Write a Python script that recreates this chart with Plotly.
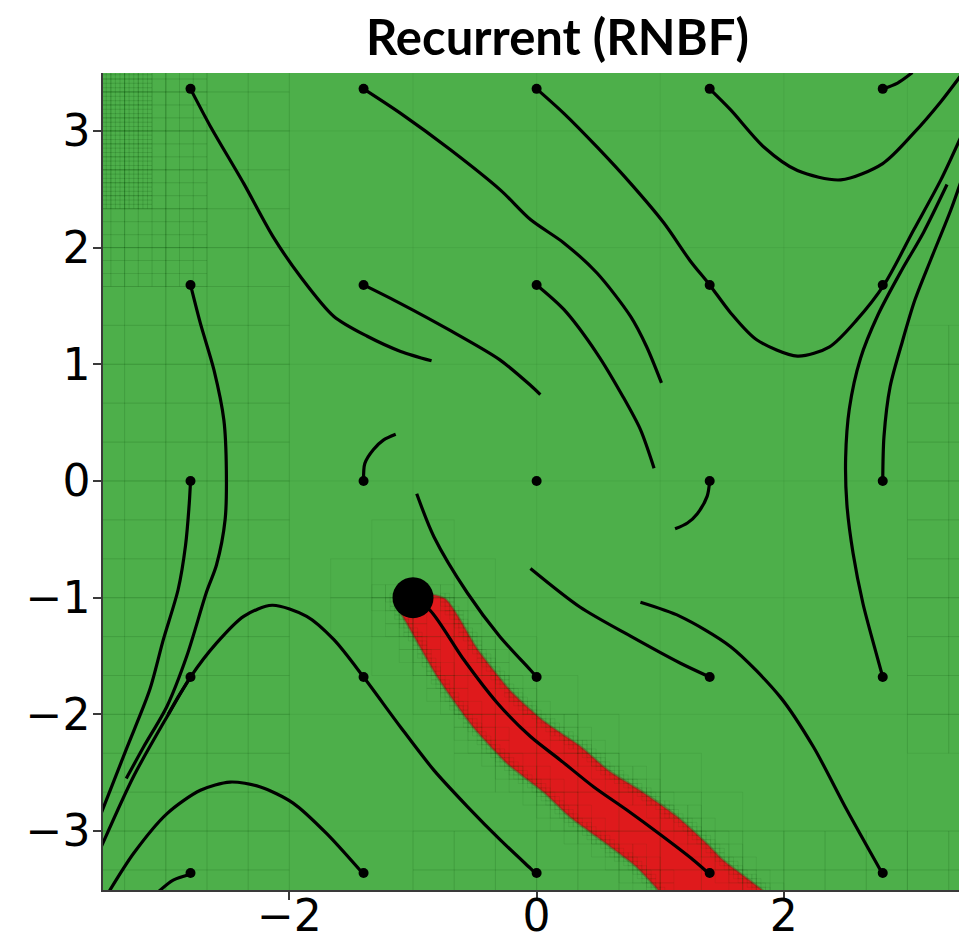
import numpy as np
import plotly.graph_objects as go

# ---------------- data ----------------
# initial states (5 x 5 grid)
start_x = [-2.8, -1.4, 0.0, 1.4, 2.8]
start_y = [3.36, 1.68, 0.0, -1.68, -3.36]

# obstacle centre
obstacle_x = [-1.0]
obstacle_y = [-1.0]

# closed-loop trajectories
traj_a_x = [-2.80, -2.64, -2.37, -2.13, -1.91, -1.64, -1.37, -1.10, -0.85]
traj_a_y = [3.36, 3.04, 2.55, 2.09, 1.75, 1.41, 1.24, 1.11, 1.03]

traj_b_x = [-1.40, -1.10, -0.70, -0.29, -0.05, 0.22, 0.49, 0.76, 0.89, 1.01]
traj_b_y = [3.36, 3.15, 2.84, 2.49, 2.24, 2.04, 1.78, 1.41, 1.15, 0.84]

traj_c_x = [0.00, 0.22, 0.49, 0.76, 1.03, 1.24, 1.40, 1.57, 1.78, 2.11, 2.37, 2.59, 2.81, 3.05, 3.27, 3.45]
traj_c_y = [3.36, 3.15, 2.86, 2.55, 2.21, 1.89, 1.68, 1.44, 1.21, 1.07, 1.15, 1.38, 1.68, 2.15, 2.58, 2.99]

traj_d_x = [1.40, 1.57, 1.84, 2.11, 2.46, 2.80, 3.05, 3.27, 3.45]
traj_d_y = [3.36, 3.18, 2.86, 2.66, 2.58, 2.72, 2.98, 3.25, 3.50]

traj_e_x = [2.80, 2.92, 3.04]
traj_e_y = [3.36, 3.41, 3.50]

traj_f_x = [-2.80, -2.72, -2.61, -2.53, -2.51, -2.52, -2.59, -2.67, -2.83, -2.99, -3.18, -3.32]
traj_f_y = [1.68, 1.35, 0.95, 0.52, 0.09, -0.33, -0.72, -0.95, -1.50, -1.93, -2.28, -2.55]

traj_g_x = [-1.40, -1.10, -0.70, -0.30, -0.05, 0.03]
traj_g_y = [1.68, 1.52, 1.29, 1.04, 0.82, 0.74]

traj_h_x = [0.00, 0.22, 0.49, 0.70, 0.84, 0.95]
traj_h_y = [1.68, 1.47, 1.09, 0.72, 0.44, 0.11]

traj_i_x = [2.80, 2.81, 2.86, 2.96, 3.06, 3.19, 3.35, 3.45]
traj_i_y = [0.00, 0.38, 0.81, 1.20, 1.55, 1.90, 2.32, 2.62]

traj_j_x = [-2.80, -2.81, -2.84, -2.90, -3.02, -3.13, -3.32, -3.52]
traj_j_y = [0.00, -0.19, -0.55, -0.93, -1.36, -1.79, -2.30, -2.84]

traj_k_x = [-1.40, -1.39, -1.32, -1.24, -1.14]
traj_k_y = [0.00, 0.15, 0.27, 0.35, 0.40]

traj_l_x = [1.40, 1.38, 1.30, 1.22, 1.12]
traj_l_y = [0.00, -0.13, -0.28, -0.36, -0.41]

traj_m_x = [-0.97, -0.83, -0.56, -0.30, -0.05, 0.00]
traj_m_y = [-0.11, -0.48, -0.96, -1.33, -1.62, -1.68]

traj_n_x = [-0.05, 0.35, 0.76, 1.16, 1.40]
traj_n_y = [-0.75, -1.08, -1.33, -1.56, -1.68]

traj_o_x = [0.84, 1.16, 1.57, 1.97, 2.24, 2.51, 2.80]
traj_o_y = [-1.04, -1.16, -1.42, -1.85, -2.28, -2.82, -3.37]

traj_p_x = [2.80, 2.74, 2.64, 2.56, 2.51, 2.50, 2.53, 2.62, 2.76, 2.95, 3.13, 3.32]
traj_p_y = [-1.68, -1.45, -1.05, -0.62, -0.20, 0.20, 0.62, 1.05, 1.42, 1.80, 2.13, 2.54]

traj_q_x = [0.00, -0.05, -0.29, -0.56, -0.83, -1.10, -1.40, -1.64, -1.86, -2.14, -2.37, -2.59, -2.80, -2.99, -3.26, -3.52]
traj_q_y = [-3.37, -3.32, -3.08, -2.79, -2.48, -2.11, -1.68, -1.36, -1.16, -1.065, -1.16, -1.39, -1.68, -2.02, -2.53, -3.13]

traj_r_x = [-2.80, -2.90, -2.98]
traj_r_y = [-1.68, -1.85, -2.00]

traj_s_x = [-1.40, -1.70, -1.97, -2.24, -2.48, -2.72, -2.99, -3.26, -3.46]
traj_s_y = [-3.37, -3.02, -2.76, -2.62, -2.58, -2.65, -2.85, -3.19, -3.52]

traj_t_x = [-2.80, -2.94, -3.06]
traj_t_y = [-3.37, -3.42, -3.52]

traj_u_x = [-1.01, -0.86, -0.59, -0.32, -0.05, 0.19, 0.46, 0.73, 1.00, 1.27, 1.40]
traj_u_y = [-1.00, -1.11, -1.53, -1.90, -2.19, -2.39, -2.62, -2.82, -3.03, -3.25, -3.37]

trajectories = [
    (traj_a_x, traj_a_y), (traj_b_x, traj_b_y), (traj_c_x, traj_c_y),
    (traj_d_x, traj_d_y), (traj_e_x, traj_e_y), (traj_f_x, traj_f_y),
    (traj_g_x, traj_g_y), (traj_h_x, traj_h_y), (traj_i_x, traj_i_y),
    (traj_j_x, traj_j_y), (traj_k_x, traj_k_y), (traj_l_x, traj_l_y),
    (traj_m_x, traj_m_y), (traj_n_x, traj_n_y), (traj_o_x, traj_o_y),
    (traj_p_x, traj_p_y), (traj_q_x, traj_q_y), (traj_r_x, traj_r_y),
    (traj_s_x, traj_s_y), (traj_t_x, traj_t_y), (traj_u_x, traj_u_y),
]

# unsafe region boundary (upper-right edge, then lower-left edge back up)
band_upper_x = [-1.01, -0.74, -0.48, -0.21, 0.06, 0.36, 0.58, 0.85, 1.13, 1.38, 1.51, 1.72, 1.90]
band_upper_y = [-0.95, -1.01, -1.44, -1.80, -2.06, -2.28, -2.48, -2.66, -2.87, -3.11, -3.25, -3.42, -3.59]
band_lower_x = [1.30, 1.12, 1.02, 0.80, 0.54, 0.27, 0.06, -0.24, -0.52, -0.79, -1.04, -1.16]
band_lower_y = [-3.82, -3.68, -3.55, -3.30, -3.09, -2.88, -2.67, -2.42, -2.10, -1.70, -1.24, -1.02]

# ---------------- styling ----------------
GREEN = "#4daf4a"
RED = "#df1a1c"
X_RANGE = [-3.508, 3.417]
Y_RANGE = [-3.505, 3.496]


def polyline_dist(px, py, xs, ys):
    xs = np.asarray(xs, float)
    ys = np.asarray(ys, float)
    ax, ay, bx, by = xs[:-1], ys[:-1], xs[1:], ys[1:]
    dx, dy = bx - ax, by - ay
    t = np.clip(((px - ax) * dx + (py - ay) * dy) / (dx * dx + dy * dy), 0, 1)
    return float(np.min(np.hypot(px - (ax + t * dx), py - (ay + t * dy))))


# adaptive partition of the state space, drawn as faint cell outlines
gx, gy = [], []


def add_cell(x0, y0, s):
    gx.extend([x0, x0 + s, x0 + s, x0, x0, None])
    gy.extend([y0, y0, y0 + s, y0 + s, y0, None])


def edge_dist(cx, cy):
    return min(polyline_dist(cx, cy, band_upper_x[1:], band_upper_y[1:]),
               polyline_dist(cx, cy, band_lower_x, band_lower_y))


for k in range(-4, 5):
    gx.extend([k, k, None, -4, 4, None])
    gy.extend([-4, 4, None, k, k, None])

s1 = 1 / 3
for i in range(-12, 12):
    for j in range(-12, 12):
        x0, y0 = i * s1, j * s1
        cx, cy = x0 + s1 / 2, y0 + s1 / 2
        refine = (
            cx < -2
            or polyline_dist(cx, cy, traj_u_x, traj_u_y) < 0.55
            or (cx > 3 and -2.5 < cy < 1.5)
            or (cy < -3 and cx > -1)
        )
        if refine:
            add_cell(x0, y0, s1)

s2 = 1 / 9
for i in range(-36, 36):
    for j in range(-36, 36):
        x0, y0 = i * s2, j * s2
        cx, cy = x0 + s2 / 2, y0 + s2 / 2
        if (cx < -2.67 and cy > 1.67) or edge_dist(cx, cy) < 0.14:
            add_cell(x0, y0, s2)

s3 = 1 / 27
for i in range(-108, -80):
    for j in range(60, 100):
        x0, y0 = i * s3, j * s3
        cx, cy = x0 + s3 / 2, y0 + s3 / 2
        if cx < -3.11 and cy > 2.33:
            add_cell(x0, y0, s3)
for i in range(-40, 60):
    for j in range(-100, -20):
        x0, y0 = i * s3, j * s3
        cx, cy = x0 + s3 / 2, y0 + s3 / 2
        if edge_dist(cx, cy) < 0.05:
            add_cell(x0, y0, s3)

fig = go.Figure()

# unsafe set
fig.add_trace(go.Scatter(
    x=band_upper_x + band_lower_x, y=band_upper_y + band_lower_y,
    mode="lines", fill="toself", fillcolor=RED,
    line=dict(color="rgba(110,50,30,0.35)", width=2.5, shape="spline", smoothing=0.6),
    hoverinfo="skip", showlegend=False,
))

# partition cells
fig.add_trace(go.Scatter(
    x=gx, y=gy, mode="lines",
    line=dict(color="rgba(20,70,20,0.075)", width=1),
    hoverinfo="skip", showlegend=False,
))

# trajectories
for tx, ty in trajectories:
    fig.add_trace(go.Scatter(
        x=tx, y=ty, mode="lines",
        line=dict(color="black", width=3.2, shape="spline", smoothing=0.8),
        hoverinfo="skip", showlegend=False,
    ))

# initial states
sx, sy = np.meshgrid(start_x, start_y)
fig.add_trace(go.Scatter(
    x=sx.ravel(), y=sy.ravel(), mode="markers",
    marker=dict(color="black", size=10),
    hoverinfo="skip", showlegend=False,
))

# obstacle
fig.add_trace(go.Scatter(
    x=obstacle_x, y=obstacle_y, mode="markers",
    marker=dict(color="black", size=41),
    hoverinfo="skip", showlegend=False,
))

tick_font = dict(family="DejaVu Sans", size=44, color="black")
x_ticks = [-2, 0, 2]
y_ticks = [-3, -2, -1, 0, 1, 2, 3]


def fmt(v):
    return ("\u2212" + str(abs(v))) if v < 0 else str(v)


fig.update_layout(
    width=959, height=943, autosize=False,
    margin=dict(l=103, r=0, t=73, b=53),
    paper_bgcolor="white", plot_bgcolor=GREEN,
    xaxis=dict(
        range=X_RANGE, showgrid=False, zeroline=False,
        showline=True, linecolor="#3a3a3a", linewidth=1.5,
        ticks="outside", ticklen=8, tickwidth=1.5, tickcolor="#3a3a3a",
        tickvals=x_ticks, ticktext=[fmt(v) for v in x_ticks],
        tickfont=tick_font, automargin=False, ticklabelstandoff=-22,
    ),
    yaxis=dict(
        range=Y_RANGE, showgrid=False, zeroline=False,
        showline=True, linecolor="#3a3a3a", linewidth=1.5,
        ticks="outside", ticklen=8, tickwidth=1.5, tickcolor="#3a3a3a",
        tickvals=y_ticks, ticktext=[fmt(v) for v in y_ticks],
        tickfont=tick_font, automargin=False, ticklabelstandoff=-6,
    ),
    annotations=[dict(
        text="<b>Recurrent (RNBF)</b>", xref="paper", yref="paper",
        x=0.5315, y=1.045, xanchor="center", yanchor="middle",
        showarrow=False, font=dict(family="Lato", size=49, color="black"),
    )],
)

fig.write_html("out.html")
